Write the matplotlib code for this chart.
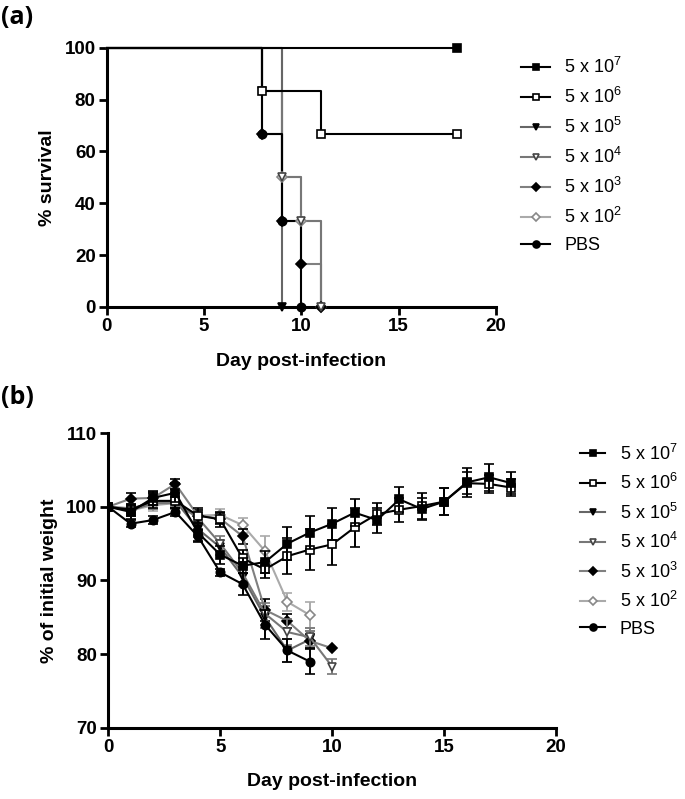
import numpy as np
import matplotlib.pyplot as plt

plt.rcParams['font.family'] = ['Liberation Sans', 'DejaVu Sans']
plt.rcParams['mathtext.fontset'] = 'custom'
plt.rcParams['mathtext.rm'] = 'Liberation Sans'

labels = ['5 x 10$^{7}$', '5 x 10$^{6}$', '5 x 10$^{5}$', '5 x 10$^{4}$',
          '5 x 10$^{3}$', '5 x 10$^{2}$', 'PBS']

# (a) survival, step points
surv_days = [
    [0, 18],
    [0, 8, 11, 18],
    [0, 9],
    [0, 8, 9, 10, 11],
    [0, 8, 9, 10, 11],
    [0, 9, 10, 11],
    [0, 8, 9, 10],
]
surv_pct = [
    [100, 100],
    [100, 83.3, 66.7, 66.7],
    [100, 0],
    [100, 83.3, 50, 33.3, 0],
    [100, 66.7, 33.3, 16.7, 0],
    [100, 50, 33.3, 0],
    [100, 66.7, 33.3, 0],
]

# (b) weight, mean and SEM
w_5e7 = [100, 99.3, 101.2, 101.9, 96.5, 93.5, 92.0, 92.5, 95.0, 96.5, 97.7,
         99.2, 98.2, 101.0, 99.7, 100.7, 103.3, 104.0, 103.2]
e_5e7 = [0, 1.0, 1.0, 1.3, 1.2, 1.2, 1.0, 1.5, 2.2, 2.2, 2.2, 1.8, 1.7, 1.7,
         1.5, 1.8, 2.0, 1.8, 1.5]
w_5e6 = [100, 99.6, 100.8, 100.8, 98.8, 98.3, 93.0, 91.5, 93.3, 94.2, 94.9,
         97.2, 99.0, 99.6, 100.1, 100.7, 103.2, 103.1, 102.6]
e_5e6 = [0, 0.8, 1.0, 1.0, 1.0, 1.0, 1.2, 1.2, 2.4, 2.8, 2.8, 2.6, 1.5, 1.6,
         1.8, 1.8, 1.5, 1.2, 1.2]
w_5e5 = [100, 99.5, 100.5, 100.8, 97.0, 94.5, 90.5, 85.0, 80.5, 82.0]
e_5e5 = [0, 0.6, 0.8, 0.8, 0.8, 1.0, 1.2, 1.5, 1.5, 1.2]
w_5e4 = [100, 99.8, 100.5, 100.5, 98.5, 95.0, 91.0, 85.5, 83.0, 82.3, 78.3]
e_5e4 = [0, 0.6, 0.8, 0.8, 0.8, 1.0, 1.2, 1.5, 1.8, 1.2, 1.0]
w_5e3 = [100, 101.1, 101.2, 103.1, 98.8, 98.4, 96.0, 86.0, 84.5, 81.8, 80.8]
e_5e3 = [0, 0.8, 0.8, 0.7, 0.8, 0.8, 1.0, 1.5, 1.0, 1.0, 0]
w_5e2 = [100, 99.5, 100.2, 100.5, 98.8, 98.9, 97.5, 94.0, 87.1, 85.3]
e_5e2 = [0, 0.8, 0.8, 0.8, 0.8, 0.8, 1.0, 2.0, 1.2, 1.8]
w_pbs = [100, 97.7, 98.2, 99.3, 96.0, 91.1, 89.5, 84.0, 80.5, 79.0]
e_pbs = [0, 0.5, 0.5, 0.5, 0.8, 0.5, 1.5, 2.0, 1.5, 1.7]

weights = [w_5e7, w_5e6, w_5e5, w_5e4, w_5e3, w_5e2, w_pbs]
errors = [e_5e7, e_5e6, e_5e5, e_5e4, e_5e3, e_5e2, e_pbs]

styles = [
    dict(color='black', marker='s', mfc='black', mec='black', ms=6),
    dict(color='black', marker='s', mfc='white', mec='black', ms=6),
    dict(color='#666666', marker='v', mfc='black', mec='black', ms=6),
    dict(color='#777777', marker='v', mfc='white', mec='#444444', ms=6),
    dict(color='#808080', marker='D', mfc='black', mec='black', ms=5),
    dict(color='#aaaaaa', marker='D', mfc='white', mec='#888888', ms=5),
    dict(color='black', marker='o', mfc='black', mec='black', ms=6),
]
zorders = [7, 6, 3, 4, 3, 2, 8]


def style_axes(ax):
    for s in ['top', 'right']:
        ax.spines[s].set_visible(False)
    for s in ['left', 'bottom']:
        ax.spines[s].set_linewidth(2.2)
    ax.tick_params(width=2, length=6, direction='out', labelsize=13.5, pad=2)
    for t in ax.get_xticklabels() + ax.get_yticklabels():
        t.set_fontweight('bold')


fig = plt.figure(figsize=(6.85, 7.99), dpi=100)

# Panel (a)
ax1 = fig.add_axes([0.156, 0.616, 0.568, 0.324])
for i in range(len(labels)):
    st = styles[i]
    ax1.plot(surv_days[i], surv_pct[i], drawstyle='steps-post',
             color=st['color'], lw=1.5, zorder=zorders[i], clip_on=False)
    ax1.plot(surv_days[i][1:], surv_pct[i][1:], ls='none', marker=st['marker'],
             mfc=st['mfc'], mec=st['mec'], ms=st['ms'], mew=1.2,
             zorder=zorders[i] + 10, clip_on=False)
ax1.set_xlim(0, 20)
ax1.set_ylim(0, 100)
ax1.set_xticks([0, 5, 10, 15, 20])
ax1.set_yticks([0, 20, 40, 60, 80, 100])
ax1.set_xlabel('Day post-infection', fontsize=14, fontweight='bold', labelpad=13)
ax1.set_ylabel('% survival', fontsize=14, fontweight='bold', labelpad=6)
style_axes(ax1)

handles = []
for i in range(len(labels)):
    st = styles[i]
    h, = ax1.plot([], [], color=st['color'], lw=1.5, marker=st['marker'],
                  mfc=st['mfc'], mec=st['mec'], ms=st['ms'] - 1, mew=1.2)
    handles.append(h)
fig.legend(handles, labels, loc='upper left', bbox_to_anchor=(0.737, 0.949),
           frameon=False, fontsize=13, handlelength=1.6, labelspacing=0.55,
           handletextpad=0.8)

# Panel (b)
ax2 = fig.add_axes([0.158, 0.089, 0.654, 0.369])
for i in range(len(labels)):
    st = styles[i]
    days = np.arange(len(weights[i]))
    ax2.errorbar(days, weights[i], yerr=errors[i], color=st['color'], lw=1.5,
                 marker=st['marker'], mfc=st['mfc'], mec=st['mec'], ms=st['ms'],
                 mew=1.2, capsize=3.5, elinewidth=1.4, capthick=1.4,
                 ecolor=st['color'] if st['color'] != '#808080' else 'black',
                 zorder=zorders[i])
ax2.set_xlim(0, 20)
ax2.set_ylim(70, 110)
ax2.set_xticks([0, 5, 10, 15, 20])
ax2.set_yticks([70, 80, 90, 100, 110])
ax2.set_xlabel('Day post-infection', fontsize=14, fontweight='bold', labelpad=12)
ax2.set_ylabel('% of initial weight', fontsize=14, fontweight='bold', labelpad=6)
style_axes(ax2)

fig.legend(handles, labels, loc='upper left', bbox_to_anchor=(0.823, 0.465),
           frameon=False, fontsize=13, handlelength=1.4, labelspacing=0.52,
           handletextpad=0.8)

fig.text(0.002, 0.978, '(a)', fontsize=18, fontweight='bold', va='center',
         family=['Open Sans', 'DejaVu Sans'])
fig.text(0.002, 0.503, '(b)', fontsize=18, fontweight='bold', va='center',
         family=['Open Sans', 'DejaVu Sans'])

fig.savefig('out.png', dpi=100)
